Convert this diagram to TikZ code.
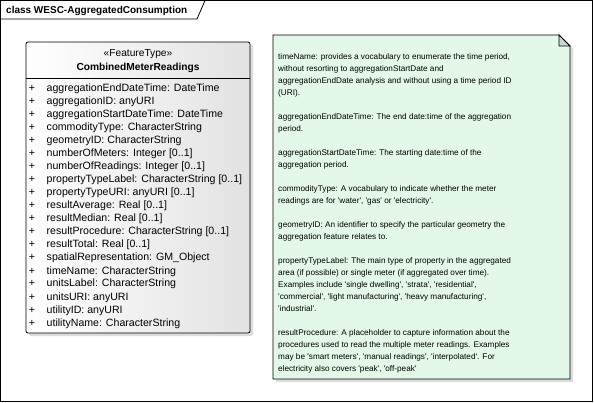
\documentclass[tikz,border=0pt]{standalone}
\usepackage{fontspec}
\usepackage{xcolor}
\usepackage{tikz}
\usetikzlibrary{positioning}
\newfontfamily\umlfont{Liberation Sans}
\definecolor{noteMint}{HTML}{E4F8EA}
\definecolor{noteFold}{HTML}{C8D8CC}
\definecolor{shadowGrey}{HTML}{DCDCDC}
\definecolor{classGrey}{HTML}{E2E2E2}

\begin{document}
\begin{tikzpicture}[
  x=1pt,y=-1pt,
  frame/.style={draw=black,line width=0.8pt},
  titletext/.style={anchor=base west,inner sep=0pt,font=\umlfont\bfseries\fontsize{10}{12}\selectfont},
  headtext/.style={anchor=base,inner sep=0pt,font=\umlfont\fontsize{10.2}{12}\selectfont},
  attr/.style={anchor=base west,inner sep=0pt,font=\umlfont\fontsize{10.6}{13}\selectfont},
  plus/.style={anchor=base,inner sep=0pt,font=\umlfont\fontsize{10.6}{13}\selectfont},
  notetext/.style={anchor=north west,inner sep=0pt,align=left,font=\umlfont\fontsize{8.2}{12}\selectfont}
]
\useasboundingbox (0,0) rectangle (594,403);
\draw[frame] (0.5,0.5) rectangle (592.5,401.5);
\draw[frame] (0.5,19) -- (197,19) -- (205,0.5);
\node[titletext] (title) at (6,14) {class WESC-AggregatedConsumption};

\fill[shadowGrey,rounded corners=2pt] (29,45) rectangle (253,336);
\shade[left color=white,right color=classGrey,draw=black,line width=0.8pt,rounded corners=2pt] (26,42) rectangle (250,333);
\coordinate (cmrtop) at (138,42);
\node[headtext] (stereo) at (138,57) {«FeatureType»};
\node[headtext,font=\umlfont\bfseries\fontsize{10.2}{12}\selectfont] (cmr) at (138,70.5) {CombinedMeterReadings};
\draw[line width=0.8pt] (26,78) -- (250,78);
\foreach \a [count=\i from 0] in {
  aggregationEndDateTime: DateTime,
  aggregationID: anyURI,
  aggregationStartDateTime: DateTime,
  commodityType: CharacterString,
  geometryID: CharacterString,
  numberOfMeters: Integer [0..1],
  numberOfReadings: Integer [0..1],
  propertyTypeLabel: CharacterString [0..1],
  propertyTypeURI: anyURI [0..1],
  resultAverage: Real [0..1],
  resultMedian: Real [0..1],
  resultProcedure: CharacterString [0..1],
  resultTotal: Real [0..1],
  {spatialRepresentation: GM\_Object},
  timeName: CharacterString,
  unitsLabel: CharacterString,
  unitsURI: anyURI,
  utilityID: anyURI,
  utilityName: CharacterString} {
  \node[plus] (plus\i) at (32,92+13*\i) {+};
  \node[attr] (attr\i) at (46.5,92+13*\i) {\a};
}

\fill[shadowGrey] (276,38) -- (562,38) -- (573,49) -- (573,382) -- (276,382) -- cycle;
\draw[fill=noteMint,line width=0.8pt] (273,35) -- (559,35) -- (570,46) -- (570,379) -- (273,379) -- cycle;
\draw[fill=noteFold,line width=0.8pt] (559,35) -- (559,46) -- (570,46) -- cycle;
\node[notetext] (note) at (278,53.5) {%
timeName: provides a vocabulary to enumerate the time period,\\
without resorting to aggregationStartDate and\\
aggregationEndDate analysis and without using a time period ID\\
(URI).\\[12pt]
aggregationEndDateTime: The end date:time of the aggregation\\
period.\\[12pt]
aggregationStartDateTime: The starting date:time of the\\
aggregation period.\\[12pt]
commodityType: A vocabulary to indicate whether the meter\\
readings are for 'water', 'gas' or 'electricity'.\\[12pt]
geometryID: An identifier to specify the particular geometry the\\
aggregation feature relates to.\\[12pt]
propertyTypeLabel: The main type of property in the aggregated\\
area (if possible) or single meter (if aggregated over time).\\
Examples include 'single dwelling', 'strata', 'residential',\\
'commercial', 'light manufacturing', 'heavy manufacturing',\\
'industrial'.\\[12pt]
resultProcedure: A placeholder to capture information about the\\
procedures used to read the multiple meter readings. Examples\\
may be 'smart meters', 'manual readings', 'interpolated'. For\\
electricity also covers 'peak', 'off-peak'};
\end{tikzpicture}
\end{document}
